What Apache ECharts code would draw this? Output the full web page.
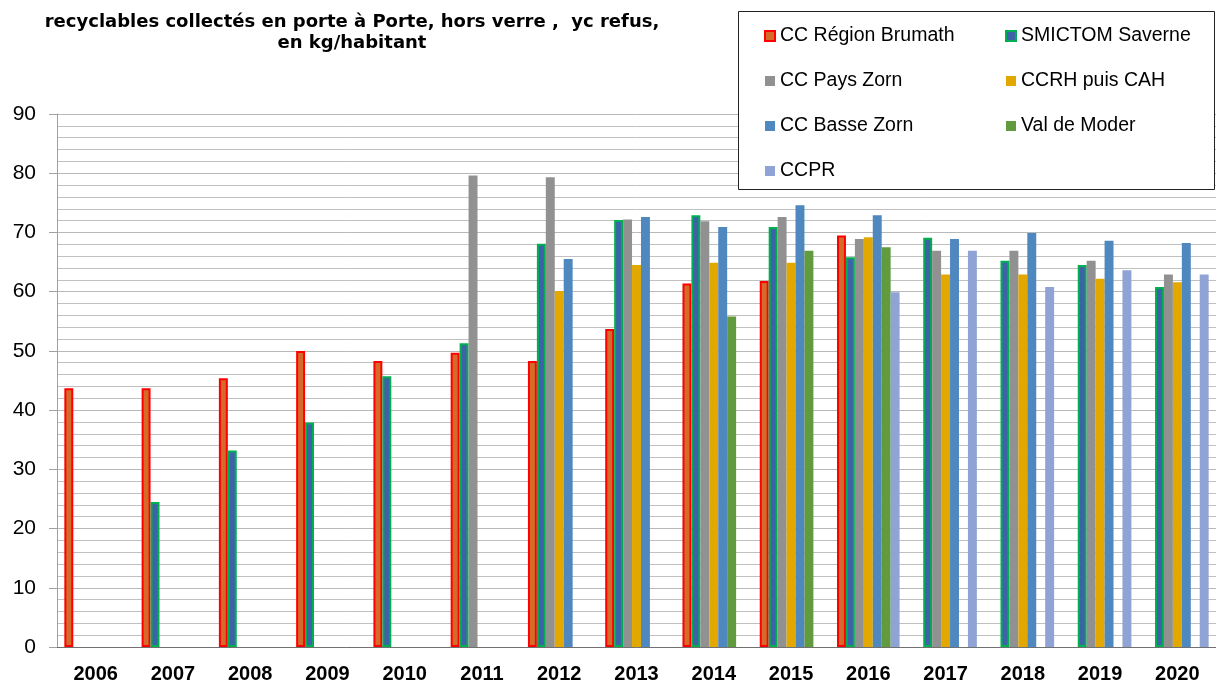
<!DOCTYPE html>
<html>
<head>
<meta charset="utf-8">
<script src="https://cdn.jsdelivr.net/npm/echarts@6/dist/echarts.min.js"></script>
<style>
  html, body { margin: 0; padding: 0; background: #fff; }
  #chart { width: 1216px; height: 684px; }
</style>
</head>
<body>
<div id="chart"></div>
<script>
// années
var years = ["2006", "2007", "2008", "2009", "2010", "2011", "2012", "2013", "2014", "2015", "2016", "2017", "2018", "2019", "2020"];
var yTicks = [0, 10, 20, 30, 40, 50, 60, 70, 80, 90];

// kg/habitant par collectivité
var brumath   = [43.7, 43.7, 45.4, 50.0, 48.3, 49.7, 48.3, 53.7, 61.4, 61.8, 69.5, null, null, null, null];
var smictom   = [null, 24.5, 33.2, 37.9, 45.7, 51.3, 68.1, 72.1, 72.9, 70.9, 65.8, 69.1, 65.2, 64.5, 60.8];
var paysZorn  = [null, null, null, null, null, 79.6, 79.3, 72.2, 71.9, 72.6, 68.9, 66.9, 66.9, 65.2, 62.9];
var ccrh      = [null, null, null, null, null, null, 60.1, 64.5, 64.9, 64.9, 69.2, 62.9, 62.9, 62.2, 61.6];
var basseZorn = [null, null, null, null, null, null, 65.5, 72.6, 70.9, 74.6, 72.9, 68.9, 69.9, 68.6, 68.2];
var valModer  = [null, null, null, null, null, null, null, null, 55.8, 66.9, 67.5, null, null, null, null];
var ccpr      = [null, null, null, null, null, null, null, null, null, null, 59.9, 66.9, 60.8, 63.6, 62.9];

var font = "Liberation Sans, Arial, sans-serif";

var chart = echarts.init(document.getElementById("chart"));

function bar(name, data, color, border) {
  var s = {
    name: name,
    type: "bar",
    data: data,
    barGap: "0%",
    barCategoryGap: "19%",
    itemStyle: { color: color },
    emphasis: { disabled: true }
  };
  if (border) {
    s.itemStyle.borderColor = border;
    s.itemStyle.borderWidth = 2;
  }
  return s;
}

var legendText = { fontFamily: font, fontSize: 19.5, color: "#000", lineHeight: 20 };

var option = {
  animation: false,
  title: {
    text: "recyclables collectés en porte à Porte, hors verre ,  yc refus,\nen kg/habitant",
    left: 347,
    top: 7,
    textAlign: "center",
    textStyle: { fontFamily: "DejaVu Sans", fontSize: 18, fontWeight: "bold", color: "#000", lineHeight: 21 }
  },
  graphic: [{
    type: "rect",
    z: 3,
    shape: { x: 738.5, y: 11.5, width: 476, height: 178 },
    style: { fill: "#fff", stroke: "#222", lineWidth: 1 }
  }],
  legend: [{
    orient: "vertical",
    left: 759,
    top: 21,
    itemWidth: 10,
    itemHeight: 10,
    itemGap: 25,
    icon: "rect",
    textStyle: legendText,
    data: [
      { name: "CC Région Brumath", itemStyle: { color: "#d46b2a", borderColor: "#ff0000", borderWidth: 2 } },
      { name: "CC Pays Zorn" },
      { name: "CC Basse Zorn" },
      { name: "CCPR" }
    ]
  }, {
    orient: "vertical",
    left: 1000,
    top: 21,
    itemWidth: 10,
    itemHeight: 10,
    itemGap: 25,
    icon: "rect",
    textStyle: legendText,
    data: [
      { name: "SMICTOM Saverne", itemStyle: { color: "#3e62a8", borderColor: "#00b050", borderWidth: 2 } },
      { name: "CCRH puis CAH" },
      { name: "Val de Moder" }
    ]
  }],
  grid: { left: 57, top: 114, right: -9, bottom: 37 },
  xAxis: {
    type: "category",
    data: years,
    axisLine: { lineStyle: { color: "#707070", width: 1 } },
    axisTick: { length: 6, interval: 0, lineStyle: { color: "#707070" } },
    axisLabel: { fontFamily: font, fontSize: 20, fontWeight: "bold", color: "#000", margin: 17, interval: 0 }
  },
  yAxis: {
    type: "value",
    min: yTicks[0],
    max: yTicks[yTicks.length - 1],
    interval: 10,
    axisLine: { show: true, lineStyle: { color: "#a0a0a0" } },
    axisTick: { show: true, length: 8, lineStyle: { color: "#a0a0a0" } },
    axisLabel: { fontFamily: font, fontSize: 21, color: "#000", margin: 21 },
    splitLine: { lineStyle: { color: "#b8b8b8", width: 1 } },
    minorTick: { show: false, splitNumber: 5 },
    minorSplitLine: { show: true, lineStyle: { color: "#c0c0c0", width: 1 } }
  },
  series: [
    bar("CC Région Brumath", brumath, "#d46b2a", "#ff0000"),
    bar("SMICTOM Saverne", smictom, "#3e62a8", "#00b050"),
    bar("CC Pays Zorn", paysZorn, "#919191"),
    bar("CCRH puis CAH", ccrh, "#e2a800"),
    bar("CC Basse Zorn", basseZorn, "#4f87bf"),
    bar("Val de Moder", valModer, "#629a3e"),
    bar("CCPR", ccpr, "#8fa3d4")
  ]
};

chart.setOption(option);
</script>
</body>
</html>
